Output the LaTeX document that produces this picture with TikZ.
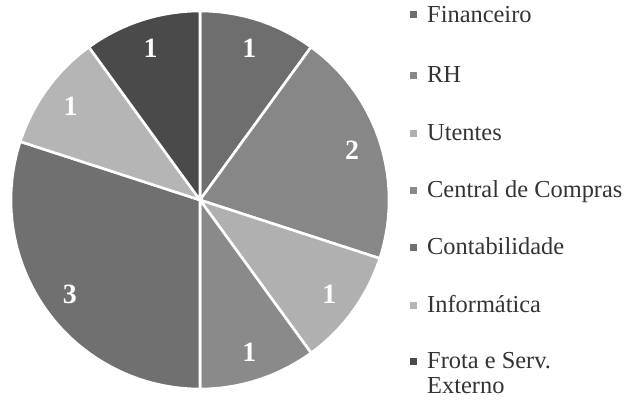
\documentclass[tikz,border=0pt]{standalone}
\usepackage{fontspec}
\setmainfont{Liberation Serif}
\usetikzlibrary{calc}

\definecolor{cFin}{gray}{0.43}
\definecolor{cRH}{gray}{0.53}
\definecolor{cUte}{gray}{0.69}
\definecolor{cCen}{gray}{0.54}
\definecolor{cCon}{gray}{0.44}
\definecolor{cInf}{gray}{0.71}
\definecolor{cFro}{gray}{0.29}

\tikzset{
  slice/.style={fill=#1, draw=white, line width=2.6bp, line join=miter},
  val/.style={text=white, font=\fontsize{28}{28}\selectfont\bfseries, inner sep=0pt},
  key/.style={fill=#1, minimum size=7bp, inner sep=0pt},
  keytext/.style={anchor=base west, font=\fontsize{24.5}{26}\selectfont, text=black!80, inner sep=0pt}
}

\newcommand{\pieslice}[3]{% colour, start angle, end angle
  \fill[slice=#1] (O) -- ($(O)+(#2:189bp)$) arc[start angle=#2, end angle=#3, radius=189bp] -- cycle;
}

\begin{document}
\begin{tikzpicture}[x=1bp, y=1bp]
\useasboundingbox (0,0) rectangle (625,401);
\coordinate (O) at (200,201);

% slices, clockwise from the top
\pieslice{cFin}{90}{54}
\pieslice{cRH}{54}{-18}
\pieslice{cUte}{-18}{-54}
\pieslice{cCen}{-54}{-90}
\pieslice{cCon}{-90}{-198}
\pieslice{cInf}{162}{126}
\pieslice{cFro}{126}{90}

% values
\node[val] (vFin) at ($(O)+(72:160bp)$) {1};
\node[val] (vRH)  at ($(O)+(18:160bp)$) {2};
\node[val] (vUte) at ($(O)+(-36:160bp)$) {1};
\node[val] (vCen) at ($(O)+(-72:160bp)$) {1};
\node[val] (vCon) at ($(O)+(-144:161bp)$) {3};
\node[val] (vInf) at ($(O)+(144:160bp)$) {1};
\node[val] (vFro) at ($(O)+(108:160bp)$) {1};

% legend
\foreach \n/\c/\y/\t in {
  kFin/cFin/386/Financeiro,
  kRH/cRH/326/RH,
  kUte/cUte/268/Utentes,
  kCen/cCen/211/Central de Compras,
  kCon/cCon/154/Contabilidade,
  kInf/cInf/96/Informática,
  kFro/cFro/40/{\vtop{\hbox{Frota e Serv.}\hbox{Externo}}}}{
  \node[key=\c] (\n) at (413.5,\y) {};
  \node[keytext] (\n-t) at (427,\y-7) {\t};
}
\end{tikzpicture}
\end{document}
